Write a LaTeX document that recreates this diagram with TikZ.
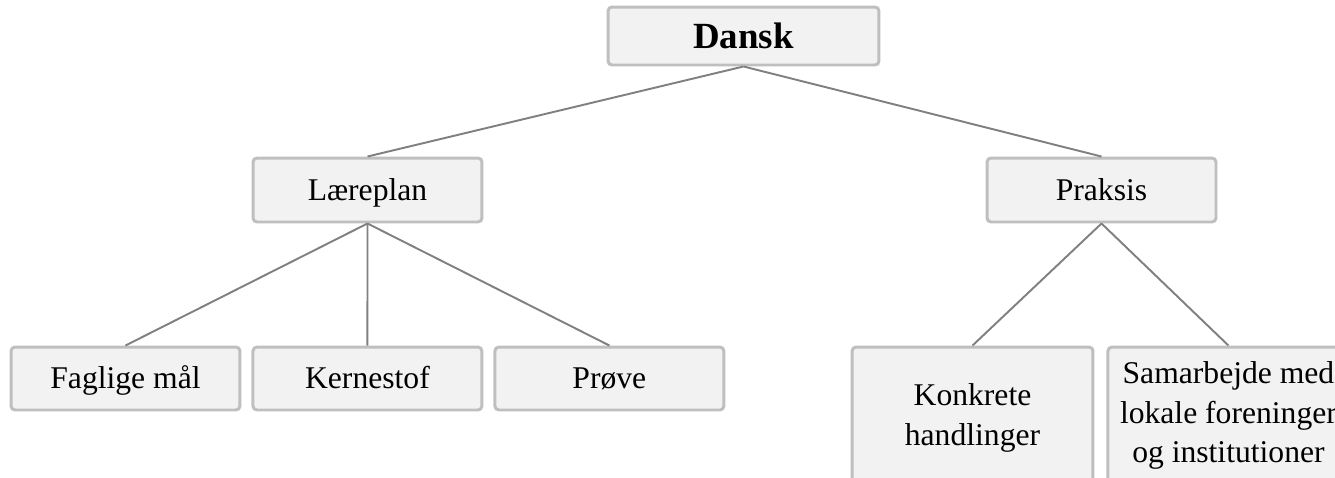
\documentclass[tikz,border=0pt]{standalone}
\usepackage{fontspec}
\setmainfont{Liberation Serif}
\usepackage{tikz}
\usetikzlibrary{positioning}
\definecolor{boxfill}{HTML}{F2F2F2}
\definecolor{boxline}{HTML}{BFBFBF}
\definecolor{conline}{HTML}{808080}

\begin{document}
\begin{tikzpicture}[x=0.02cm, y=-0.02cm,
    box/.style={shape=rectangle, draw=boxline, fill=boxfill, line width=1.7pt,
      rounded corners=0.08cm, align=center, inner sep=0pt,
      font=\fontsize{18}{22.7}\selectfont},
    oneline/.style={text height=14pt, text depth=2.5pt},
    conn/.style={draw=conline, line width=1.1pt}]
    \useasboundingbox (0,0) rectangle (1335,477);
    \clip (0,0) rectangle (1335,477);

    \node[box, text height=16pt, text depth=1.5pt, minimum width=5.42cm, minimum height=1.16cm, font=\fontsize{21}{25}\selectfont\bfseries] (dansk) at (743.5, 36) {Dansk};
    \node[box, oneline, minimum width=4.58cm, minimum height=1.28cm] (plan) at (367.5, 190) {Læreplan};
    \node[box, oneline, minimum width=4.58cm, minimum height=1.28cm] (praksis) at (1101.5, 190) {Praksis};

    \node[box, oneline, minimum width=4.58cm, minimum height=1.26cm] (maal) at (125.5, 378.5) {Faglige mål};
    \node[box, oneline, minimum width=4.58cm, minimum height=1.26cm, right = 0.2cm of maal] (kerne) {Kernestof};
    \node[box, oneline, minimum width=4.58cm, minimum height=1.26cm, right = 0.2cm of kerne] (proeve) {Prøve};

    \node[box, minimum width=4.82cm, minimum height=2.84cm] (handling) at (972.5, 418) {Konkrete\\handlinger};
    \node[box, minimum width=4.82cm, minimum height=2.74cm, right = 0.24cm of handling.north east, anchor=north west] (samarb) {Samarbejde med\\lokale foreninger\\og institutioner};

      \path[conn] (dansk.south) -- (plan.north);
      \path[conn] (dansk.south) -- (praksis.north);
      \path[conn] (plan.south) -- (maal.north);
      \path[conn] (plan.south) -- (kerne.north);
      \path[conn] (plan.south) -- (proeve.north);
      \path[conn] (praksis.south) -- (handling.north);
      \path[conn] (praksis.south) -- (samarb.north);
\end{tikzpicture}
\end{document}
